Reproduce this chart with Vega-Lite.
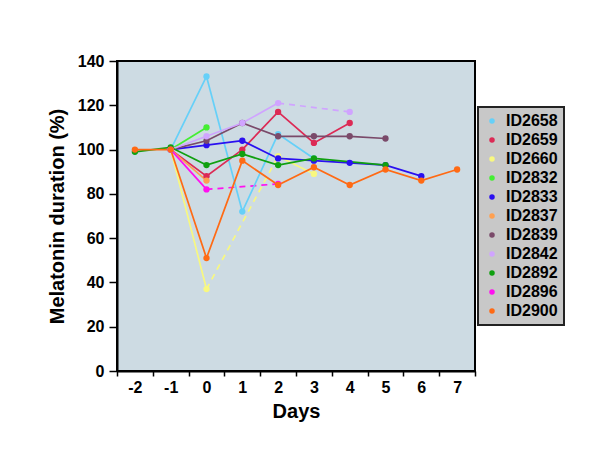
{
  "$schema": "https://vega.github.io/schema/vega-lite/v6.json",
  "autosize": {"type": "none"},
  "width": 358,
  "height": 310,
  "padding": {"left": 117, "top": 61, "right": 125, "bottom": 93},
  "background": "white",
  "config": {
    "font": "Liberation Sans",
    "view": {"fill": "#cddbe3", "stroke": "black", "strokeWidth": 2},
    "axis": {"grid": false, "labelFont": "Liberation Sans", "titleFont": "Liberation Sans", "labelFontWeight": "bold", "titleFontWeight": "bold", "labelColor": "black", "titleColor": "black", "domainColor": "black", "tickColor": "black", "domainWidth": 2, "tickWidth": 1.5, "labelOverlap": false, "labelFlush": false, "labelBound": false},
    "legend": {"strokeWidth": 2}
  },
  "datasets": {
    "pts": [
      {"id": "ID2658", "day": -1, "value": 100, "seg": "a"},
      {"id": "ID2658", "day": 0, "value": 133, "seg": "a"},
      {"id": "ID2658", "day": 1, "value": 72, "seg": "a"},
      {"id": "ID2658", "day": 2, "value": 107, "seg": "a"},
      {"id": "ID2658", "day": 3, "value": 96, "seg": "a"},
      {"id": "ID2659", "day": -1, "value": 100, "seg": "a"},
      {"id": "ID2659", "day": 0, "value": 88, "seg": "a"},
      {"id": "ID2659", "day": 1, "value": 100, "seg": "a"},
      {"id": "ID2659", "day": 2, "value": 117, "seg": "a"},
      {"id": "ID2659", "day": 3, "value": 103, "seg": "a"},
      {"id": "ID2659", "day": 4, "value": 112, "seg": "a"},
      {"id": "ID2660", "day": -1, "value": 100, "seg": "a"},
      {"id": "ID2660", "day": 0, "value": 37, "seg": "a"},
      {"id": "ID2660", "day": 2, "value": 97, "seg": "b"},
      {"id": "ID2660", "day": 3, "value": 89, "seg": "b"},
      {"id": "ID2832", "day": -1, "value": 100, "seg": "a"},
      {"id": "ID2832", "day": 0, "value": 110, "seg": "a"},
      {"id": "ID2833", "day": -1, "value": 100, "seg": "a"},
      {"id": "ID2833", "day": 0, "value": 102, "seg": "a"},
      {"id": "ID2833", "day": 1, "value": 104, "seg": "a"},
      {"id": "ID2833", "day": 2, "value": 96, "seg": "a"},
      {"id": "ID2833", "day": 3, "value": 95, "seg": "a"},
      {"id": "ID2833", "day": 4, "value": 94, "seg": "a"},
      {"id": "ID2833", "day": 5, "value": 93, "seg": "a"},
      {"id": "ID2833", "day": 6, "value": 88, "seg": "a"},
      {"id": "ID2837", "day": -1, "value": 100, "seg": "a"},
      {"id": "ID2837", "day": 0, "value": 86, "seg": "a"},
      {"id": "ID2839", "day": -1, "value": 100, "seg": "a"},
      {"id": "ID2839", "day": 0, "value": 104, "seg": "a"},
      {"id": "ID2839", "day": 1, "value": 112, "seg": "a"},
      {"id": "ID2839", "day": 2, "value": 106, "seg": "a"},
      {"id": "ID2839", "day": 3, "value": 106, "seg": "a"},
      {"id": "ID2839", "day": 4, "value": 106, "seg": "a"},
      {"id": "ID2839", "day": 5, "value": 105, "seg": "a"},
      {"id": "ID2842", "day": -1, "value": 100, "seg": "a"},
      {"id": "ID2842", "day": 0, "value": 106, "seg": "a"},
      {"id": "ID2842", "day": 1, "value": 112, "seg": "a"},
      {"id": "ID2842", "day": 2, "value": 121, "seg": "a"},
      {"id": "ID2842", "day": 4, "value": 117, "seg": "b"},
      {"id": "ID2892", "day": -2, "value": 99, "seg": "a"},
      {"id": "ID2892", "day": -1, "value": 101, "seg": "a"},
      {"id": "ID2892", "day": 0, "value": 93, "seg": "a"},
      {"id": "ID2892", "day": 1, "value": 98, "seg": "a"},
      {"id": "ID2892", "day": 2, "value": 93, "seg": "a"},
      {"id": "ID2892", "day": 3, "value": 96, "seg": "a"},
      {"id": "ID2892", "day": 5, "value": 93, "seg": "a"},
      {"id": "ID2896", "day": -1, "value": 100, "seg": "a"},
      {"id": "ID2896", "day": 0, "value": 82, "seg": "a"},
      {"id": "ID2896", "day": 2, "value": 84.5, "seg": "b"},
      {"id": "ID2900", "day": -2, "value": 100, "seg": "a"},
      {"id": "ID2900", "day": -1, "value": 100, "seg": "a"},
      {"id": "ID2900", "day": 0, "value": 51, "seg": "a"},
      {"id": "ID2900", "day": 1, "value": 95, "seg": "a"},
      {"id": "ID2900", "day": 2, "value": 84, "seg": "a"},
      {"id": "ID2900", "day": 3, "value": 92, "seg": "a"},
      {"id": "ID2900", "day": 4, "value": 84, "seg": "a"},
      {"id": "ID2900", "day": 5, "value": 91, "seg": "a"},
      {"id": "ID2900", "day": 6, "value": 86, "seg": "a"},
      {"id": "ID2900", "day": 7, "value": 91, "seg": "a"}
    ],
    "dash": [
      {"id": "ID2660", "day": 0, "value": 37},
      {"id": "ID2660", "day": 2, "value": 97},
      {"id": "ID2842", "day": 2, "value": 121},
      {"id": "ID2842", "day": 4, "value": 117},
      {"id": "ID2896", "day": 0, "value": 82},
      {"id": "ID2896", "day": 2, "value": 84.5}
    ]
  },
  "layer": [
    {
      "mark": {"type": "rule", "color": "black", "strokeDash": [5, 4], "strokeWidth": 1.5},
      "encoding": {"y": {"datum": 100, "type": "quantitative"}}
    },
    {
      "data": {"name": "dash"},
      "mark": {"type": "line", "strokeWidth": 1.7, "strokeDash": [6, 5]},
      "encoding": {
        "x": {"field": "day", "type": "quantitative",
          "scale": {"domain": [-2.5, 7.5], "nice": false, "zero": false},
          "axis": {
            "title": "Days", "values": [-2.5, -1.5, -0.5, 0.5, 1.5, 2.5, 3.5, 4.5, 5.5, 6.5, 7.5], "tickCount": 30,
            "labelExpr": "datum.value > 7 ? ' ' : toString(datum.value + 0.5)",
            "labelOffset": 17.9, "labelFlush": false, "labelOverlap": false, "labelBound": false,
            "labelFontSize": 16, "titleFontSize": 20, "tickSize": 5, "labelPadding": 3, "titlePadding": 6
          }},
        "y": {"field": "value", "type": "quantitative",
          "scale": {"domain": [0, 140], "nice": false},
          "axis": {
            "title": "Melatonin duration (%)", "values": [0, 20, 40, 60, 80, 100, 120, 140], "tickCount": 30,
            "labelFontSize": 16, "titleFontSize": 20, "tickSize": 8, "labelPadding": 5, "titlePadding": 10, "labelFlush": false
          }},
        "color": {"field": "id", "type": "nominal",
          "scale": {
            "domain": ["ID2658", "ID2659", "ID2660", "ID2832", "ID2833", "ID2837", "ID2839", "ID2842", "ID2892", "ID2896", "ID2900"],
            "range": ["#66d0f8", "#dc2a55", "#f8f880", "#44ee33", "#2a10f0", "#ffa050", "#7a4a6a", "#d0a4ff", "#10a010", "#ff10f0", "#ff6a14"]
          },
          "legend": {
            "title": null, "orient": "none", "legendX": 361, "legendY": 46,
            "fillColor": "#c8c8c8", "strokeColor": "#222222",
            "padding": 6, "symbolType": "circle", "symbolSize": 30, "symbolStrokeWidth": 0,
            "labelFontSize": 16, "labelFontWeight": "bold", "labelColor": "black", "labelFont": "Liberation Sans",
            "labelOffset": 6, "rowPadding": 3
          }}
      }
    },
    {
      "data": {"name": "pts"},
      "mark": {"type": "line", "strokeWidth": 1.7},
      "encoding": {
        "x": {"field": "day", "type": "quantitative"},
        "y": {"field": "value", "type": "quantitative"},
        "color": {"field": "id", "type": "nominal"},
        "detail": {"field": "seg"}
      }
    },
    {
      "data": {"name": "pts"},
      "mark": {"type": "circle", "size": 40, "opacity": 1},
      "encoding": {
        "x": {"field": "day", "type": "quantitative"},
        "y": {"field": "value", "type": "quantitative"},
        "color": {"field": "id", "type": "nominal"}
      }
    }
  ]
}
